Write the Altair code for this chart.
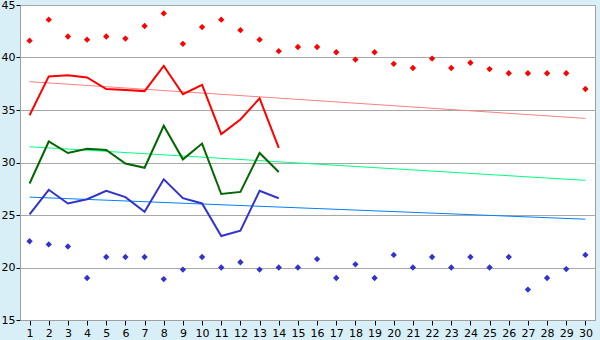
import altair as alt
import pandas as pd

days = list(range(1, 31))

red_pts = [41.6, 43.6, 42.0, 41.7, 42.0, 41.8, 43.0, 44.2, 41.3, 42.9,
           43.6, 42.6, 41.7, 40.6, 41.0, 41.0, 40.5, 39.8, 40.5, 39.4,
           39.0, 39.9, 39.0, 39.5, 38.9, 38.5, 38.5, 38.5, 38.5, 37.0]
blue_pts = [22.5, 22.2, 22.0, 19.0, 21.0, 21.0, 21.0, 18.9, 19.8, 21.0,
            20.0, 20.5, 19.8, 20.0, 20.0, 20.8, 19.0, 20.3, 19.0, 21.2,
            20.0, 21.0, 20.0, 21.0, 20.0, 21.0, 17.9, 19.0, 19.85, 21.2]

line_days = list(range(1, 15))
red_line = [34.5, 38.2, 38.3, 38.1, 37.0, 36.9, 36.8, 39.2, 36.5, 37.4, 32.7, 34.1, 36.1, 31.4]
green_line = [28.0, 32.0, 30.9, 31.3, 31.2, 29.9, 29.5, 33.5, 30.3, 31.8, 27.0, 27.2, 30.9, 29.1]
blue_line = [25.05, 27.4, 26.1, 26.5, 27.3, 26.7, 25.3, 28.4, 26.6, 26.1, 23.0, 23.5, 27.3, 26.6]

trend_days = [1, 30]
red_trend = [37.7, 34.2]
green_trend = [31.5, 28.3]
blue_trend = [26.7, 24.6]

pts = pd.DataFrame(
    [{"x": d, "y": v, "s": "max"} for d, v in zip(days, red_pts)]
    + [{"x": d, "y": v, "s": "min"} for d, v in zip(days, blue_pts)]
)
lines = pd.DataFrame(
    [{"x": d, "y": v, "s": "red"} for d, v in zip(line_days, red_line)]
    + [{"x": d, "y": v, "s": "green"} for d, v in zip(line_days, green_line)]
    + [{"x": d, "y": v, "s": "blue"} for d, v in zip(line_days, blue_line)]
)
trends = pd.DataFrame(
    [{"x": d, "y": v, "s": "red"} for d, v in zip(trend_days, red_trend)]
    + [{"x": d, "y": v, "s": "green"} for d, v in zip(trend_days, green_trend)]
    + [{"x": d, "y": v, "s": "blue"} for d, v in zip(trend_days, blue_trend)]
)

xs = alt.Scale(domain=[0.5, 30.5], nice=False, zero=False)
ys = alt.Scale(domain=[15, 45], nice=False, zero=False)
xax = alt.Axis(values=days, grid=False, tickSize=5, tickColor="black", domainColor="#A0A0A0",
               labelFontSize=11, labelColor="black", labelFont="DejaVu Sans", title=None,
               labelPadding=2, labelFlush=False)
yax = alt.Axis(values=[15, 20, 25, 30, 35, 40, 45], grid=True, gridColor="#A8A8A8", tickSize=4,
               tickColor="black", domainColor="#A0A0A0", labelFontSize=11, labelColor="black",
               labelFont="DejaVu Sans", title=None, labelPadding=1)

X = alt.X("x:Q", scale=xs, axis=xax)
Y = alt.Y("y:Q", scale=ys, axis=yax)

trend_layer = alt.Chart(trends).mark_line(strokeWidth=1).encode(
    x=X, y=Y, detail="s:N",
    color=alt.Color("s:N", scale=alt.Scale(domain=["red", "green", "blue"],
                                           range=["#FF8080", "#00FF80", "#0080FF"]), legend=None),
)
line_layer = alt.Chart(lines).mark_line(strokeWidth=2).encode(
    x=X, y=Y, detail="s:N",
    color=alt.Color("s:N", scale=alt.Scale(domain=["red", "green", "blue"],
                                           range=["#FF0000", "#006600", "#3333CC"]), legend=None),
)
pt_layer = alt.Chart(pts).mark_point(shape="diamond", filled=True, size=40, opacity=1).encode(
    x=X, y=Y,
    color=alt.Color("s:N", scale=alt.Scale(domain=["max", "min"],
                                           range=["#FF0000", "#3333CC"]), legend=None),
)

chart = alt.layer(trend_layer, line_layer, pt_layer).resolve_scale(color="independent").properties(
    width=575, height=315,
    autosize=alt.AutoSizeParams(type="none"),
    padding={"left": 20, "top": 5, "right": 5, "bottom": 20},
    background="#D9EFF7",
).configure_view(fill="white", stroke="#A0A0A0", strokeWidth=1)

chart.save("out.html", embed_options={"renderer": "svg", "actions": False})
